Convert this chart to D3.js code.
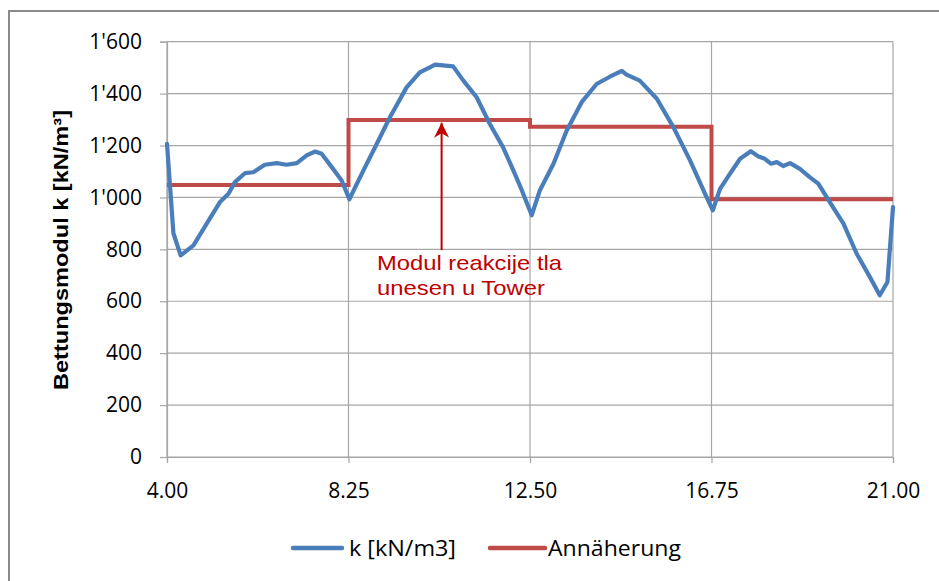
<!DOCTYPE html>
<html><head><meta charset="utf-8">
<script src="https://cdn.jsdelivr.net/npm/d3@7"></script>
<style>body{margin:0;background:#fff} svg{display:block}</style>
</head><body>
<svg id="c" width="939" height="581"></svg>
<script>
// ---- data ----
const xTicks = [4.00, 8.25, 12.50, 16.75, 21.00];
const yTicks = [0, 200, 400, 600, 800, 1000, 1200, 1400, 1600];
const kX = [4.00, 4.15, 4.32, 4.62, 4.93, 5.24, 5.44, 5.59, 5.83, 6.02, 6.29, 6.57, 6.80, 7.04, 7.27, 7.47, 7.62, 7.89, 8.09, 8.27,
            8.60, 8.91, 9.22, 9.61, 9.92, 10.28, 10.70, 10.94, 11.25, 11.56, 11.87, 12.11, 12.31, 12.54,
            12.73, 13.05, 13.36, 13.71, 14.06, 14.37, 14.65, 14.76, 15.07, 15.47, 15.86, 16.25, 16.60, 16.78,
            16.95, 17.18, 17.42, 17.67, 17.85, 18.00, 18.14, 18.28, 18.43, 18.59, 18.82, 19.05, 19.25, 19.52, 19.84, 20.15, 20.46, 20.69, 20.87, 21.00];
const kY = [1206, 862, 777, 815, 899, 982, 1014, 1059, 1094, 1097, 1126, 1132, 1126, 1132, 1162, 1177, 1168, 1110, 1065, 993,
            1104, 1206, 1309, 1424, 1482, 1512, 1505, 1450, 1386, 1283, 1193, 1104, 1027, 931,
            1027, 1130, 1258, 1367, 1437, 1465, 1488, 1473, 1450, 1380, 1270, 1142, 1014, 950,
            1033, 1091, 1149, 1178, 1158, 1149, 1130, 1136, 1121, 1132, 1110, 1078, 1053, 982, 899, 783, 693, 623, 674, 963];
const approxX = [4.00, 8.25, 8.25, 12.50, 12.50, 16.75, 16.75, 21.00];
const approxY = [1048, 1048, 1298, 1298, 1272, 1272, 993, 993];
const seriesNames = ["k [kN/m3]", "Annäherung"];
const seriesColors = ["#4A7EBB", "#BE4B48"];
const yTitle = "Bettungsmodul k [kN/m³]";
const noteLines = ["Modul reakcije tla", "unesen u Tower"];
const arrowX = 10.43, arrowFromY = 797, arrowToY = 1288;

// ---- chart ----
const svg = d3.select("#c");
const x = d3.scaleLinear().domain([4, 21]).range([167, 893]);
const y = d3.scaleLinear().domain([0, 1600]).range([457, 41.7]);
const grid = "#A6A6A6";
const font = "'Open Sans', 'Liberation Sans', sans-serif";

// outer frame (extends past viewport on right/bottom)
svg.append("rect").attr("x", 9).attr("y", 11).attr("width", 1000).attr("height", 1000)
  .attr("fill", "none").attr("stroke", "#8A8A8A").attr("stroke-width", 2);

// gridlines
svg.append("g").selectAll("line").data(yTicks).join("line")
  .attr("x1", x(4)).attr("x2", x(21)).attr("y1", d => y(d)).attr("y2", d => y(d))
  .attr("stroke", grid).attr("stroke-width", 1.2);
svg.append("g").selectAll("line").data(xTicks).join("line")
  .attr("x1", d => x(d)).attr("x2", d => x(d)).attr("y1", y(1600)).attr("y2", y(0))
  .attr("stroke", grid).attr("stroke-width", 1.2);

const fmtY = d3.formatLocale({decimal: ".", thousands: "'", grouping: [3], currency: ["", ""]}).format(",");
const yAxis = svg.append("g").attr("transform", `translate(${x(4)},0)`)
  .call(d3.axisLeft(y).tickValues(yTicks).tickFormat(fmtY).tickSize(7).tickPadding(18));
const xAxis = svg.append("g").attr("transform", `translate(0,${y(0)})`)
  .call(d3.axisBottom(x).tickValues(xTicks).tickFormat(d3.format(".2f")).tickSize(6).tickPadding(20));
[yAxis, xAxis].forEach(a => {
  a.selectAll("path.domain").attr("stroke", grid).attr("stroke-width", 1.2);
  a.selectAll(".tick line").attr("stroke", grid).attr("stroke-width", 1.2);
  a.selectAll("text").attr("font-family", font).attr("font-size", 21).attr("fill", "#000");
});

// series
const line = d3.line().x(d => x(d[0])).y(d => y(d[1]));
svg.append("path").datum(approxX.map((v, i) => [v, approxY[i]]))
  .attr("d", line).attr("fill", "none").attr("stroke", seriesColors[1])
  .attr("stroke-width", 4).attr("stroke-linejoin", "miter");
svg.append("path").datum(kX.map((v, i) => [v, kY[i]]))
  .attr("d", line).attr("fill", "none").attr("stroke", seriesColors[0])
  .attr("stroke-width", 4.2).attr("stroke-linejoin", "round").attr("stroke-linecap", "round");

// y title
svg.append("text").attr("transform", `translate(68,250) rotate(-90)`)
  .attr("text-anchor", "middle").attr("font-family", "'Liberation Sans', Arial, sans-serif")
  .attr("font-weight", "bold").attr("font-size", 21)
  .attr("textLength", 280).attr("lengthAdjust", "spacingAndGlyphs")
  .text(yTitle);

// annotation
const noteColor = "#C00000";
const defs = svg.append("defs");
defs.append("marker").attr("id", "ah").attr("viewBox", "0 0 10 10").attr("refX", 10).attr("refY", 5)
  .attr("markerWidth", 7.5).attr("markerHeight", 7.5).attr("markerUnits", "strokeWidth").attr("orient", "auto")
  .append("path").attr("d", "M0,0 L10,5 L0,10 L3,5 Z").attr("fill", noteColor);
svg.append("line").attr("x1", x(arrowX)).attr("x2", x(arrowX))
  .attr("y1", y(arrowFromY)).attr("y2", y(arrowToY))
  .attr("stroke", noteColor).attr("stroke-width", 2).attr("marker-end", "url(#ah)");
const noteW = [185, 168];
noteLines.forEach((t, i) => {
  svg.append("text").attr("x", 377).attr("y", 270 + i * 25)
    .attr("font-family", "'Liberation Sans', Arial, sans-serif").attr("font-size", 21)
    .attr("fill", noteColor).attr("textLength", noteW[i]).attr("lengthAdjust", "spacingAndGlyphs")
    .text(t);
});

// legend
const leg = [{x0: 293, x1: 342, tx: 349, tw: 107}, {x0: 490, x1: 545, tx: 548, tw: 133}];
leg.forEach((l, i) => {
  svg.append("line").attr("x1", l.x0).attr("x2", l.x1).attr("y1", 548).attr("y2", 548)
    .attr("stroke", seriesColors[i]).attr("stroke-width", 4.5).attr("stroke-linecap", "round");
  svg.append("text").attr("x", l.tx).attr("y", 555.5)
    .attr("font-family", font).attr("font-size", 21)
    .attr("textLength", l.tw).attr("lengthAdjust", "spacingAndGlyphs")
    .text(seriesNames[i]);
});
</script>
</body></html>
